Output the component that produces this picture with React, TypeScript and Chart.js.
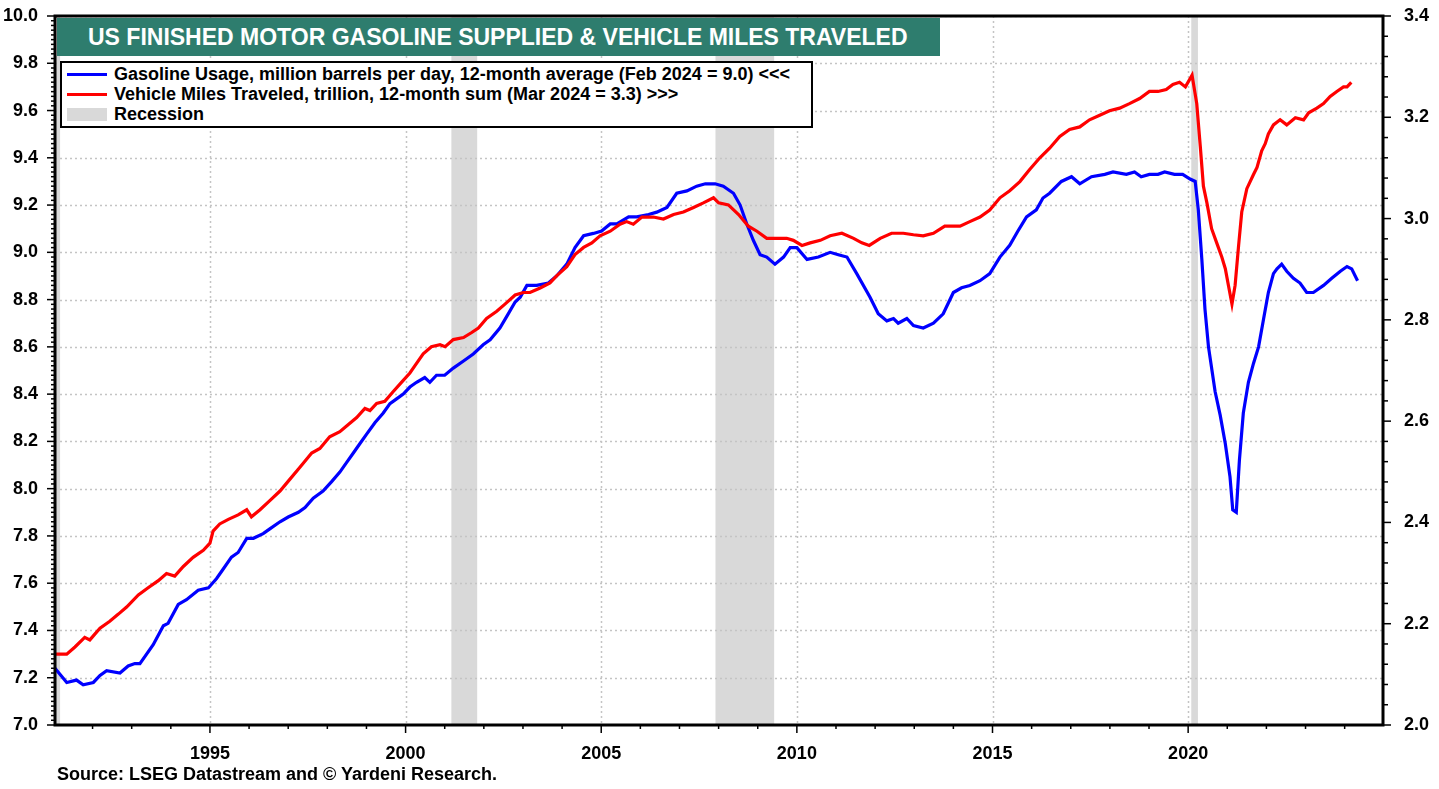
import React, { useEffect, useRef } from "react";
import { Chart, registerables } from "chart.js";

Chart.register(...registerables);

// Gasoline usage, million barrels per day, 12-month average (left axis)
const gasYears = [
  1991.04, 1991.34, 1991.59, 1991.76, 1992.02, 1992.19, 1992.36, 1992.7, 1992.91, 1993.08,
  1993.21, 1993.55, 1993.81, 1993.93, 1994.19, 1994.4, 1994.7, 1994.96, 1995.17, 1995.34,
  1995.55, 1995.72, 1995.94, 1996.11, 1996.36, 1996.53, 1996.79, 1997.0, 1997.26, 1997.43,
  1997.64, 1997.89, 1998.11, 1998.32, 1998.49, 1998.66, 1998.83, 1999.0, 1999.22, 1999.43,
  1999.6, 1999.77, 1999.94, 2000.11, 2000.28, 2000.49, 2000.62, 2000.79, 2001.0, 2001.22,
  2001.48, 2001.73, 2001.99, 2002.16, 2002.41, 2002.59, 2002.8, 2002.93, 2003.1, 2003.35,
  2003.65, 2003.86, 2004.12, 2004.33, 2004.55, 2004.8, 2005.01, 2005.23, 2005.4, 2005.7,
  2005.91, 2006.21, 2006.42, 2006.68, 2006.93, 2007.19, 2007.44, 2007.66, 2007.91, 2008.12,
  2008.38, 2008.55, 2008.72, 2008.89, 2009.06, 2009.23, 2009.44, 2009.66, 2009.83, 2010.0,
  2010.26, 2010.55, 2010.85, 2011.06, 2011.28, 2011.53, 2011.87, 2012.08, 2012.3, 2012.47,
  2012.59, 2012.81, 2012.98, 2013.23, 2013.49, 2013.74, 2014.0, 2014.21, 2014.42, 2014.68,
  2014.93, 2015.19, 2015.44, 2015.65, 2015.87, 2016.12, 2016.29, 2016.46, 2016.76, 2017.02,
  2017.23, 2017.53, 2017.87, 2018.08, 2018.42, 2018.63, 2018.8, 2019.01, 2019.23, 2019.4,
  2019.65, 2019.86, 2020.05, 2020.18, 2020.26, 2020.35, 2020.43, 2020.52, 2020.69, 2020.82,
  2020.95, 2021.07, 2021.14, 2021.23, 2021.31, 2021.41, 2021.54, 2021.67, 2021.8, 2021.93,
  2022.05, 2022.18, 2022.27, 2022.39, 2022.52, 2022.69, 2022.86, 2023.03, 2023.2, 2023.46,
  2023.67, 2023.89, 2024.06, 2024.18, 2024.33,
];
const gasValues = [
  7.24, 7.18, 7.19, 7.17, 7.18, 7.21, 7.23, 7.22, 7.25, 7.26,
  7.26, 7.34, 7.42, 7.43, 7.51, 7.53, 7.57, 7.58, 7.62, 7.66,
  7.71, 7.73, 7.79, 7.79, 7.81, 7.83, 7.86, 7.88, 7.9, 7.92,
  7.96, 7.99, 8.03, 8.07, 8.11, 8.15, 8.19, 8.23, 8.28, 8.32,
  8.36, 8.38, 8.4, 8.43, 8.45, 8.47, 8.45, 8.48, 8.48, 8.51,
  8.54, 8.57, 8.61, 8.63, 8.68, 8.73, 8.79, 8.81, 8.86, 8.86,
  8.87, 8.9, 8.95, 9.02, 9.07, 9.08, 9.09, 9.12, 9.12, 9.15,
  9.15, 9.16, 9.17, 9.19, 9.25, 9.26, 9.28, 9.29, 9.29, 9.28,
  9.25, 9.2, 9.12, 9.05, 8.99, 8.98, 8.95, 8.98, 9.02, 9.02,
  8.97, 8.98, 9.0, 8.99, 8.98, 8.91, 8.81, 8.74, 8.71, 8.72,
  8.7, 8.72, 8.69, 8.68, 8.7, 8.74, 8.83, 8.85, 8.86, 8.88,
  8.91, 8.98, 9.03, 9.09, 9.15, 9.18, 9.23, 9.25, 9.3, 9.32,
  9.29, 9.32, 9.33, 9.34, 9.33, 9.34, 9.32, 9.33, 9.33, 9.34,
  9.33, 9.33, 9.31, 9.3, 9.18, 8.97, 8.76, 8.6, 8.41, 8.31,
  8.19, 8.05, 7.91, 7.9, 8.12, 8.32, 8.45, 8.53, 8.6, 8.72,
  8.83, 8.91, 8.93, 8.95, 8.92, 8.89, 8.87, 8.83, 8.83, 8.86,
  8.89, 8.92, 8.94, 8.93, 8.88,
];

// Vehicle miles traveled, trillion, 12-month sum (right axis)
const vmtYears = [
  1991.04, 1991.34, 1991.55, 1991.8, 1991.93, 1992.19, 1992.44, 1992.66, 1992.87, 1993.17,
  1993.42, 1993.68, 1993.89, 1994.1, 1994.32, 1994.57, 1994.83, 1995.0, 1995.08, 1995.25,
  1995.47, 1995.72, 1995.94, 1996.06, 1996.28, 1996.53, 1996.79, 1997.04, 1997.3, 1997.6,
  1997.81, 1998.06, 1998.32, 1998.53, 1998.75, 1998.96, 1999.09, 1999.26, 1999.47, 1999.68,
  1999.9, 2000.11, 2000.28, 2000.45, 2000.66, 2000.88, 2001.01, 2001.22, 2001.48, 2001.69,
  2001.86, 2002.07, 2002.33, 2002.54, 2002.8, 2003.01, 2003.18, 2003.44, 2003.69, 2003.86,
  2004.12, 2004.33, 2004.55, 2004.76, 2004.97, 2005.23, 2005.48, 2005.65, 2005.82, 2006.04,
  2006.33, 2006.59, 2006.85, 2007.1, 2007.36, 2007.61, 2007.87, 2008.0, 2008.25, 2008.51,
  2008.76, 2008.98, 2009.23, 2009.49, 2009.74, 2009.91, 2010.13, 2010.34, 2010.6, 2010.85,
  2011.15, 2011.45, 2011.66, 2011.85, 2012.13, 2012.42, 2012.72, 2012.98, 2013.23, 2013.49,
  2013.78, 2014.17, 2014.42, 2014.68, 2014.93, 2015.19, 2015.44, 2015.7, 2015.95, 2016.21,
  2016.46, 2016.72, 2016.97, 2017.23, 2017.48, 2017.74, 2017.99, 2018.25, 2018.5, 2018.76,
  2019.01, 2019.23, 2019.44, 2019.61, 2019.78, 2019.93, 2020.1, 2020.22, 2020.31, 2020.39,
  2020.48, 2020.6, 2020.73, 2020.86, 2020.95, 2021.03, 2021.12, 2021.2, 2021.29, 2021.37,
  2021.5, 2021.67, 2021.76, 2021.88, 2021.97, 2022.05, 2022.18, 2022.35, 2022.52, 2022.74,
  2022.95, 2023.08, 2023.29, 2023.46, 2023.63, 2023.8, 2023.97, 2024.06, 2024.17,
];
const vmtValues = [
  2.14, 2.14, 2.154, 2.173, 2.168, 2.191, 2.205, 2.219, 2.233, 2.257,
  2.271, 2.285, 2.299, 2.294, 2.313, 2.331, 2.345, 2.359, 2.383, 2.397,
  2.406, 2.415, 2.425, 2.411, 2.425, 2.443, 2.462, 2.485, 2.509, 2.537,
  2.546, 2.569, 2.579, 2.593, 2.607, 2.625, 2.621, 2.635, 2.639, 2.658,
  2.677, 2.695, 2.714, 2.733, 2.747, 2.751, 2.747, 2.761, 2.765, 2.775,
  2.784, 2.803, 2.817, 2.831, 2.849, 2.854, 2.854, 2.863, 2.873, 2.887,
  2.905, 2.929, 2.943, 2.952, 2.966, 2.975, 2.989, 2.994, 2.989, 3.003,
  3.003, 2.999, 3.008, 3.013, 3.022, 3.031, 3.041, 3.031, 3.027, 3.008,
  2.985, 2.975, 2.961, 2.961, 2.961, 2.957, 2.947, 2.952, 2.957, 2.966,
  2.971, 2.961, 2.952, 2.947, 2.961, 2.971, 2.971, 2.968, 2.966, 2.971,
  2.985, 2.985, 2.994, 3.003, 3.017, 3.041, 3.055, 3.073, 3.097, 3.12,
  3.139, 3.162, 3.176, 3.181, 3.195, 3.204, 3.213, 3.218, 3.227, 3.237,
  3.251, 3.251, 3.255, 3.265, 3.269, 3.26, 3.283, 3.227, 3.143, 3.064,
  3.031, 2.98, 2.952, 2.924, 2.901, 2.868, 2.831, 2.868, 2.947, 3.013,
  3.059, 3.087, 3.101, 3.134, 3.148, 3.167, 3.185, 3.195, 3.185, 3.199,
  3.195, 3.209, 3.218, 3.227, 3.241, 3.251, 3.26, 3.26, 3.269,
];

const recessionStarts = [1990.58, 2001.17, 2007.92, 2020.08];
const recessionEnds = [1991.17, 2001.83, 2009.42, 2020.25];

const xTickYears = [1995, 2000, 2005, 2010, 2015, 2020];
const leftTicks = [7.0, 7.2, 7.4, 7.6, 7.8, 8.0, 8.2, 8.4, 8.6, 8.8, 9.0, 9.2, 9.4, 9.6, 9.8, 10.0];
const rightTicks = [2.0, 2.2, 2.4, 2.6, 2.8, 3.0, 3.2, 3.4];

const titleText = "US FINISHED MOTOR GASOLINE SUPPLIED & VEHICLE MILES TRAVELED";
const legendLabels = [
  "Gasoline Usage, million barrels per day, 12-month average (Feb 2024 = 9.0) <<<",
  "Vehicle Miles Traveled, trillion, 12-month sum (Mar 2024 = 3.3) >>>",
  "Recession",
];
const sourceText = "Source: LSEG Datastream and \u00A9 Yardeni Research.";

const FONT = "'Liberation Sans', Arial, Helvetica, sans-serif";

const decorPlugin = {
  id: "decor",
  beforeDraw(chart: any) {
    const { ctx, chartArea: a, scales } = chart;
    ctx.save();
    ctx.beginPath();
    ctx.rect(a.left, a.top, a.right - a.left, a.bottom - a.top);
    ctx.clip();
    ctx.fillStyle = "#d9d9d9";
    recessionStarts.forEach((s, i) => {
      const x1 = scales.x.getPixelForValue(s);
      const x2 = scales.x.getPixelForValue(recessionEnds[i]);
      ctx.fillRect(x1, a.top, x2 - x1, a.bottom - a.top);
    });
    ctx.strokeStyle = "#c4c4c4";
    ctx.lineWidth = 1.5;
    ctx.setLineDash([2, 3]);
    leftTicks.forEach((v) => {
      const y = Math.round(scales.y.getPixelForValue(v)) + 0.5;
      ctx.beginPath();
      ctx.moveTo(a.left, y);
      ctx.lineTo(a.right, y);
      ctx.stroke();
    });
    xTickYears.forEach((v) => {
      const x = Math.round(scales.x.getPixelForValue(v)) + 0.5;
      ctx.beginPath();
      ctx.moveTo(x, a.top);
      ctx.lineTo(x, a.bottom);
      ctx.stroke();
    });
    ctx.restore();
  },
  afterDraw(chart: any) {
    const { ctx, chartArea: a, scales } = chart;
    ctx.save();
    ctx.strokeStyle = "#000";
    ctx.lineWidth = 3;
    ctx.strokeRect(a.left, a.top, a.right - a.left, a.bottom - a.top);
    ctx.lineWidth = 1.5;
    // left axis ticks
    for (let i = 0; i <= 150; i++) {
      const v = 7 + i * 0.02;
      const y = scales.y.getPixelForValue(v);
      const major = i % 10 === 0;
      ctx.beginPath();
      ctx.moveTo(a.left - (major ? 8 : 4), y);
      ctx.lineTo(a.left, y);
      ctx.stroke();
    }
    // right axis ticks
    for (let i = 0; i <= 35; i++) {
      const v = 2 + i * 0.04;
      const y = scales.y1.getPixelForValue(v);
      const major = i % 5 === 0;
      ctx.beginPath();
      ctx.moveTo(a.right, y);
      ctx.lineTo(a.right + (major ? 8 : 5), y);
      ctx.stroke();
    }
    // bottom axis ticks
    for (let yr = 1992; yr <= 2024; yr++) {
      const x = scales.x.getPixelForValue(yr);
      const major = yr % 5 === 0;
      ctx.beginPath();
      ctx.moveTo(x, a.bottom);
      ctx.lineTo(x, a.bottom + (major ? 8 : 4));
      ctx.stroke();
    }
    ctx.restore();
  },
};

export default function App() {
  const canvasRef = useRef<HTMLCanvasElement | null>(null);

  useEffect(() => {
    if (!canvasRef.current) return;
    const gasData = gasYears.map((x, i) => ({ x, y: gasValues[i] }));
    const vmtData = vmtYears.map((x, i) => ({ x, y: vmtValues[i] }));
    const tickFont = { family: FONT, size: 18, weight: "bold" as const };
    const chart = new Chart(canvasRef.current, {
      type: "line",
      data: {
        datasets: [
          {
            label: legendLabels[1],
            data: vmtData,
            yAxisID: "y1",
            borderColor: "#ff0000",
            borderWidth: 3.2,
            pointRadius: 0,
            tension: 0,
          },
          {
            label: legendLabels[0],
            data: gasData,
            yAxisID: "y",
            borderColor: "#0000ff",
            borderWidth: 3.2,
            pointRadius: 0,
            tension: 0,
          },
        ],
      },
      options: {
        animation: false,
        responsive: true,
        maintainAspectRatio: false,
        layout: { padding: { top: 16, left: 0, right: 0, bottom: 0 } },
        plugins: { legend: { display: false }, tooltip: { enabled: false } },
        scales: {
          x: {
            type: "linear",
            min: 1991.04,
            max: 2024.98,
            grid: { display: false },
            border: { display: false },
            afterBuildTicks: (scale: any) => {
              scale.ticks = xTickYears.map((v) => ({ value: v }));
            },
            afterFit: (scale: any) => {
              scale.height = 64;
              scale.paddingLeft = 0;
              scale.paddingRight = 0;
            },
            ticks: {
              autoSkip: false,
              maxRotation: 0,
              padding: 10,
              color: "#000",
              font: tickFont,
              callback: (v: any) => String(v),
            },
          },
          y: {
            position: "left",
            min: 7,
            max: 10,
            grid: { display: false },
            border: { display: false },
            afterBuildTicks: (scale: any) => {
              scale.ticks = leftTicks.map((v) => ({ value: v }));
            },
            afterFit: (scale: any) => {
              scale.width = 55;
              scale.paddingTop = 0;
              scale.paddingBottom = 0;
            },
            ticks: {
              padding: 9,
              color: "#000",
              font: tickFont,
              callback: (v: any) => Number(v).toFixed(1),
            },
          },
          y1: {
            position: "right",
            min: 2,
            max: 3.4,
            grid: { display: false },
            border: { display: false },
            afterBuildTicks: (scale: any) => {
              scale.ticks = rightTicks.map((v) => ({ value: v }));
            },
            afterFit: (scale: any) => {
              scale.width = 56;
              scale.paddingTop = 0;
              scale.paddingBottom = 0;
            },
            ticks: {
              padding: 13,
              color: "#000",
              font: tickFont,
              callback: (v: any) => Number(v).toFixed(1),
            },
          },
        },
      },
      plugins: [decorPlugin],
    });
    return () => chart.destroy();
  }, []);

  const rowStyle: React.CSSProperties = {
    display: "flex",
    alignItems: "center",
    height: 20,
  };
  const textStyle: React.CSSProperties = {
    fontFamily: FONT,
    fontWeight: "bold",
    fontSize: 18,
    color: "#000",
    whiteSpace: "nowrap",
  };

  return (
    <div
      style={{
        position: "fixed",
        left: 0,
        top: 0,
        width: 1439,
        height: 789,
        background: "#fff",
        overflow: "hidden",
      }}
    >
      <canvas ref={canvasRef} style={{ position: "absolute", left: 0, top: 0 }} />
      <div
        style={{
          position: "absolute",
          left: 57,
          top: 18,
          width: 883,
          height: 38,
          background: "#2e7d6e",
          color: "#fff",
          fontFamily: FONT,
          fontWeight: "bold",
          fontSize: 23,
          lineHeight: "38px",
          paddingLeft: 31,
          boxSizing: "border-box",
          whiteSpace: "nowrap",
        }}
      >
        {titleText}
      </div>
      <div
        style={{
          position: "absolute",
          left: 60,
          top: 61,
          width: 753,
          height: 67,
          border: "2px solid #000",
          background: "#fff",
          boxSizing: "border-box",
          padding: "1px 0 0 5px",
        }}
      >
        <div style={rowStyle}>
          <div style={{ width: 40, height: 3, background: "#0000ff", marginRight: 7, flex: "none" }} />
          <span style={textStyle}>{legendLabels[0]}</span>
        </div>
        <div style={rowStyle}>
          <div style={{ width: 40, height: 3, background: "#ff0000", marginRight: 7, flex: "none" }} />
          <span style={textStyle}>{legendLabels[1]}</span>
        </div>
        <div style={rowStyle}>
          <div style={{ width: 40, height: 13, background: "#d9d9d9", marginRight: 7, flex: "none" }} />
          <span style={textStyle}>{legendLabels[2]}</span>
        </div>
      </div>
      <div
        style={{
          position: "absolute",
          left: 57,
          top: 764,
          ...textStyle,
          fontSize: 18,
        }}
      >
        {sourceText}
      </div>
    </div>
  );
}
